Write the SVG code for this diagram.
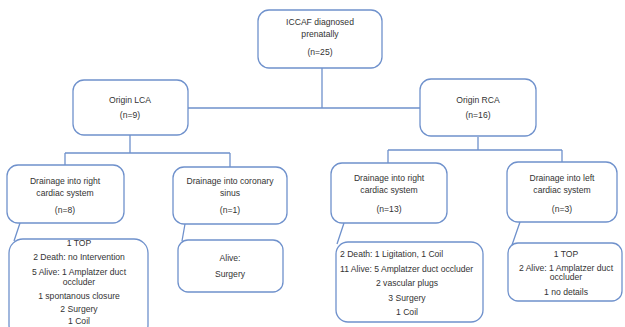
<svg xmlns="http://www.w3.org/2000/svg" width="625" height="327" viewBox="0 0 625 327">
<style>
.box{fill:#fff;stroke:#6f91cc;stroke-width:1.3}
.ln{fill:none;stroke:#6f91cc;stroke-width:1.3}
text{font-family:"Liberation Sans",Arial,sans-serif;font-size:8.6px;fill:#333;text-anchor:middle}
.l{text-anchor:start}
</style>
<rect width="625" height="327" fill="#fff"/>
<g id="connectors">
<path class="ln" d="M322,68 V108 M188,108 H420 M130,135 V153 M65,153 H230 M65,153 V165 M230,153 V167 M478,137 V150 M388,150 H562 M388,150 V163 M562,150 V162"/>
<path class="ln" d="M20,223 L14,241 M185,224 L182,241 M344,223 L337,244 M520,222 L512,245"/>
</g>
<g id="root"><rect class="box" x="258" y="10" width="124" height="58" rx="11"/>
<text x="320" y="25">ICCAF diagnosed</text><text x="320" y="37">prenatally</text><text x="320" y="55">(n=25)</text></g>
<g id="lca"><rect class="box" x="73" y="80" width="115" height="55" rx="11"/>
<text x="130" y="103">Origin LCA</text><text x="130" y="118">(n=9)</text></g>
<g id="rca"><rect class="box" x="420" y="79" width="116" height="57" rx="11"/>
<text x="478" y="103">Origin RCA</text><text x="478" y="118">(n=16)</text></g>
<g id="lca-right"><rect class="box" x="7" y="165" width="117" height="58" rx="11"/>
<text x="65" y="184">Drainage into right</text><text x="65" y="196">cardiac system</text><text x="65" y="213">(n=8)</text></g>
<g id="lca-sinus"><rect class="box" x="173" y="167" width="114" height="57" rx="11"/>
<text x="230" y="184">Drainage into coronary</text><text x="230" y="196">sinus</text><text x="230" y="213">(n=1)</text></g>
<g id="rca-right"><rect class="box" x="331" y="163" width="116" height="60" rx="11"/>
<text x="389" y="181">Drainage into right</text><text x="389" y="193">cardiac system</text><text x="389" y="212">(n=13)</text></g>
<g id="rca-left"><rect class="box" x="507" y="162" width="110" height="60" rx="11"/>
<text x="562" y="181">Drainage into left</text><text x="562" y="193">cardiac system</text><text x="562" y="212">(n=3)</text></g>
<g id="out-lca-right"><rect class="box" x="9" y="239" width="139" height="100" rx="14"/>
<text x="79" y="246">1 TOP</text><text x="79" y="260">2 Death: no Intervention</text><text x="79" y="275">5 Alive: 1 Amplatzer duct</text><text x="79" y="285">occluder</text><text x="79" y="299">1 spontanous closure</text><text x="79" y="312">2 Surgery</text><text x="79" y="324">1 Coil</text></g>
<g id="out-lca-sinus"><rect class="box" x="178" y="240" width="105" height="52" rx="10"/>
<text x="230" y="261">Alive:</text><text x="230" y="277">Surgery</text></g>
<g id="out-rca-right"><rect class="box" x="336" y="242" width="147" height="80" rx="12"/>
<text class="l" x="340" y="257">2 Death: 1 Ligitation, 1 Coil</text><text class="l" x="340" y="272">11 Alive: 5 Amplatzer duct occluder</text><text x="407" y="286">2 vascular plugs</text><text x="407" y="301">3 Surgery</text><text x="407" y="315">1 Coil</text></g>
<g id="out-rca-left"><rect class="box" x="508" y="243" width="114" height="58" rx="10"/>
<text x="566" y="257">1 TOP</text><text x="566" y="271">2 Alive: 1 Amplatzer duct</text><text x="566" y="280">occluder</text><text x="566" y="295">1 no details</text></g>
</svg>
